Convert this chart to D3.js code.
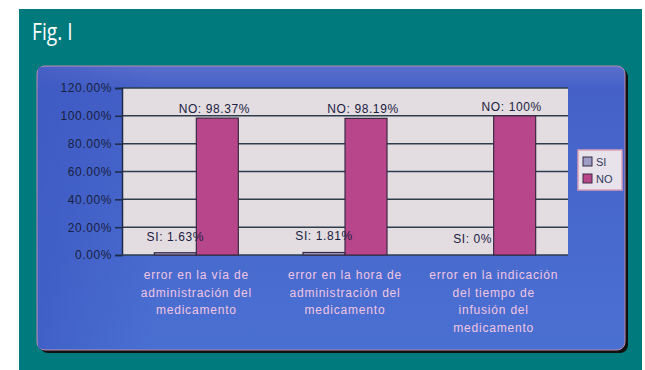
<!DOCTYPE html>
<html>
<head>
<meta charset="utf-8">
<script src="https://cdn.jsdelivr.net/npm/d3@7"></script>
<style>
  body { margin: 0; background: #fff; }
  svg { display: block; }
</style>
</head>
<body>
<svg id="chart"></svg>
<script>
// data
const categories = [
  ["error en la vía de", "administración del", "medicamento"],
  ["error en la hora de", "administración del", "medicamento"],
  ["error en la indicación", "del tiempo de", "infusión del", "medicamento"]
];
const series = ["SI", "NO"];
const siValues = [0.0163, 0.0181, 0];
const noValues = [0.9837, 0.9819, 1.0];
const siLabels = ["SI: 1.63%", "SI: 1.81%", "SI: 0%"];
const noLabels = ["NO: 98.37%", "NO: 98.19%", "NO: 100%"];
const yTicks = [0, 0.2, 0.4, 0.6, 0.8, 1.0, 1.2];

const W = 645, H = 370;
const colors = { SI: "#9c9cc4", NO: "#b8468a" };

const svg = d3.select("#chart").attr("width", W).attr("height", H);

const defs = svg.append("defs");
const panelGrad = defs.append("linearGradient").attr("id", "panelGrad")
  .attr("x1", 0).attr("y1", 0).attr("x2", 0).attr("y2", 1);
panelGrad.append("stop").attr("offset", "0%").attr("stop-color", "#5a6fcc");
panelGrad.append("stop").attr("offset", "8%").attr("stop-color", "#4561c8");
panelGrad.append("stop").attr("offset", "100%").attr("stop-color", "#4a70d2");

const sideGrad = defs.append("linearGradient").attr("id", "sideGrad")
  .attr("x1", 0).attr("y1", 0).attr("x2", 1).attr("y2", 0);
sideGrad.append("stop").attr("offset", "0%").attr("stop-color", "#3a56c0").attr("stop-opacity", 0.6);
sideGrad.append("stop").attr("offset", "100%").attr("stop-color", "#3a56c0").attr("stop-opacity", 0);

// teal frame
svg.append("rect")
  .attr("x", 19).attr("y", 9).attr("width", 623).attr("height", 361)
  .attr("fill", "#007a7d");

svg.append("text")
  .attr("transform", "translate(32,40) scale(0.8,1)")
  .style("font-family", "'Open Sans', sans-serif")
  .style("font-size", "24px")
  .style("fill", "#fff")
  .text("Fig. I");

// chart panel with shadow
svg.append("rect")
  .attr("x", 40).attr("y", 69).attr("width", 588).attr("height", 284)
  .attr("rx", 8).attr("fill", "#111");
svg.append("rect")
  .attr("x", 37).attr("y", 66).attr("width", 588).attr("height", 284)
  .attr("rx", 8).attr("fill", "url(#panelGrad)")
  .attr("stroke", "#b98aa8").attr("stroke-width", 1);
svg.append("rect")
  .attr("x", 38).attr("y", 67).attr("width", 120).attr("height", 282)
  .attr("fill", "url(#sideGrad)");

const margin = { top: 88, right: 568, bottom: 255, left: 122 };

const x0 = d3.scaleBand()
  .domain(d3.range(categories.length))
  .range([margin.left, margin.right]);

const x1 = d3.scaleBand()
  .domain(series)
  .range([0, x0.bandwidth()])
  .paddingInner(0)
  .paddingOuter(0.77);

const y = d3.scaleLinear()
  .domain([0, 1.2])
  .range([margin.bottom, margin.top]);

// plot area
svg.append("rect")
  .attr("x", margin.left).attr("y", margin.top)
  .attr("width", margin.right - margin.left)
  .attr("height", margin.bottom - margin.top)
  .attr("fill", "#e3dde2");

// grid lines
svg.append("g")
  .selectAll("line")
  .data(yTicks.slice(1))
  .join("line")
  .attr("x1", margin.left).attr("x2", margin.right)
  .attr("y1", d => y(d)).attr("y2", d => y(d))
  .attr("stroke", "#2d3d4c").attr("stroke-width", 1.5);

const labelFont = "'Liberation Sans', Arial, sans-serif";

// y axis
const yAxis = svg.append("g")
  .attr("transform", `translate(${margin.left},0)`)
  .call(d3.axisLeft(y).tickValues(yTicks).tickFormat(d3.format(".2%")).tickSize(7).tickPadding(3));
yAxis.select(".domain").attr("stroke", "#1f2a44").attr("stroke-width", 1.5);
yAxis.selectAll(".tick line").attr("stroke", "#1f2a44").attr("stroke-width", 1.5);
yAxis.selectAll("text")
  .style("font-family", labelFont)
  .style("font-size", "12px")
  .style("letter-spacing", "0.6px")
  .style("fill", "#1a2040");

// x baseline
svg.append("line")
  .attr("x1", margin.left).attr("x2", margin.right)
  .attr("y1", y(0)).attr("y2", y(0))
  .attr("stroke", "#2d3d4c").attr("stroke-width", 1.5);

const rows = categories.map((c, i) => ({ i, SI: siValues[i], NO: noValues[i] }));

const groups = svg.append("g").selectAll("g")
  .data(rows)
  .join("g")
  .attr("transform", d => `translate(${x0(d.i)},0)`);

groups.selectAll("rect")
  .data(d => series.map(s => ({ s, v: d[s] })))
  .join("rect")
  .attr("x", d => x1(d.s))
  .attr("y", d => y(d.v))
  .attr("width", x1.bandwidth())
  .attr("height", d => Math.max(0, y(0) - y(d.v)))
  .attr("fill", d => colors[d.s])
  .attr("stroke", "#3a2a44")
  .attr("stroke-width", 1.2);

// value labels
groups.append("text")
  .attr("x", x1("NO") + x1.bandwidth() / 2 - 3)
  .attr("y", d => y(d.NO) - 5)
  .attr("text-anchor", "middle")
  .style("font-family", labelFont)
  .style("font-size", "12px")
  .style("letter-spacing", "0.6px")
  .style("fill", "#1a2040")
  .text(d => noLabels[d.i]);

groups.append("text")
  .attr("x", x1("SI") + x1.bandwidth() / 2)
  .attr("y", d => y(d.SI) - 12)
  .attr("text-anchor", "middle")
  .style("font-family", labelFont)
  .style("font-size", "12px")
  .style("letter-spacing", "0.6px")
  .style("fill", "#1a2040")
  .text(d => siLabels[d.i]);

// category labels
const catText = svg.append("g").selectAll("text")
  .data(categories)
  .join("text")
  .attr("x", (d, i) => x0(i) + x0.bandwidth() / 2)
  .attr("y", 279)
  .attr("text-anchor", "middle")
  .style("font-family", labelFont)
  .style("font-size", "12px")
  .style("letter-spacing", "0.8px")
  .style("fill", "#f2c6e2");
catText.selectAll("tspan")
  .data(d => d)
  .join("tspan")
  .attr("x", function () { return this.parentNode.getAttribute("x"); })
  .attr("dy", (d, j) => j === 0 ? 0 : 17.5)
  .text(d => d);

// legend
const legend = svg.append("g").attr("transform", "translate(578,150)");
legend.append("rect")
  .attr("width", 44).attr("height", 40)
  .attr("fill", "#e8e2ea").attr("stroke", "#d9a0b8").attr("stroke-width", 1.5);
const li = legend.selectAll("g")
  .data(series)
  .join("g")
  .attr("transform", (d, i) => `translate(5,${7 + i * 17})`);
li.append("rect")
  .attr("width", 9).attr("height", 9)
  .attr("fill", d => colors[d])
  .attr("stroke", "#3a2a44").attr("stroke-width", 1);
li.append("text")
  .attr("x", 13).attr("y", 9)
  .style("font-family", labelFont)
  .style("font-size", "11px")
  .style("fill", "#303a60")
  .text(d => d);
</script>
</body>
</html>
